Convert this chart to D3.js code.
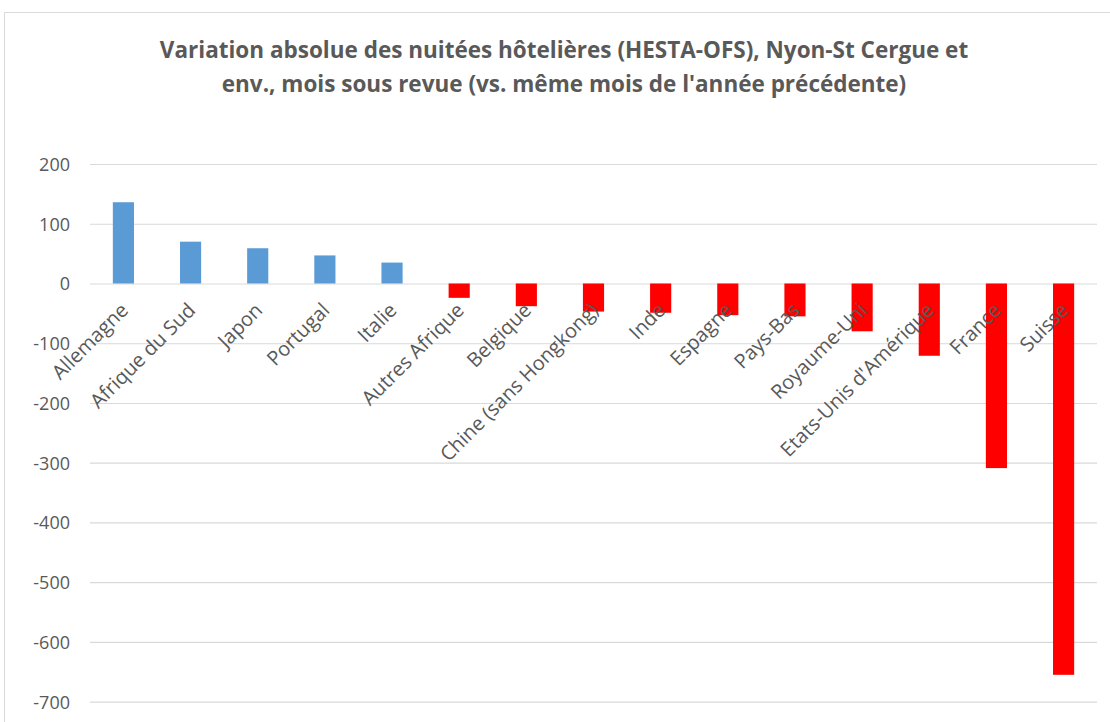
<!DOCTYPE html>
<html>
<head>
<meta charset="utf-8">
<script src="https://cdn.jsdelivr.net/npm/d3@7"></script>
<style>
  body { margin: 0; background: #fff; }
  text { font-family: "Open Sans", sans-serif; fill: #595959; }
</style>
</head>
<body>
<script>
// pays, dans l'ordre du graphique
var categories = ["Allemagne", "Afrique du Sud", "Japon", "Portugal", "Italie",
  "Autres Afrique", "Belgique", "Chine (sans Hongkong)", "Inde", "Espagne",
  "Pays-Bas", "Royaume-Uni", "Etats-Unis d'Amérique", "France", "Suisse"];
// variation absolue des nuitées
var values = [136, 70, 59, 47, 35, -24, -38, -47, -49, -53, -55, -80, -121, -309, -655];
var yTicks = [200, 100, 0, -100, -200, -300, -400, -500, -600, -700];
var titleLines = ["Variation absolue des nuitées hôtelières (HESTA-OFS), Nyon-St Cergue et",
  "env., mois sous revue (vs. même mois de l'année précédente)"];

var width = 1110, height = 722;
var margin = {left: 90, right: 13, top: 164, bottom: 20};

var svg = d3.select("body").append("svg").attr("width", width).attr("height", height);

// cadre du graphique
svg.append("rect").attr("x", 4.5).attr("y", 12.5).attr("width", width + 20).attr("height", height + 20)
  .attr("fill", "none").attr("stroke", "#d9d9d9");

svg.selectAll(".title").data(titleLines).enter().append("text")
  .attr("class", "title")
  .attr("x", 564).attr("y", function(d, i) { return 58 + i * 34; })
  .attr("text-anchor", "middle")
  .style("font-size", "22.5px").style("font-weight", "bold")
  .text(function(d) { return d; });

var x = d3.scaleBand().domain(categories).range([margin.left, 1097]).paddingInner(0.685).paddingOuter(0.34);
var y = d3.scaleLinear().domain([-700, 200]).range([701.7, 164]);

// grille
var yAxis = svg.append("g").attr("transform", "translate(" + margin.left + ",0)")
  .call(d3.axisLeft(y).tickValues(yTicks).tickSize(-(1097 - margin.left)).tickPadding(20).tickFormat(d3.format("d")));
yAxis.select(".domain").remove();
yAxis.selectAll(".tick line").attr("stroke", "#d9d9d9").attr("stroke-width", 1.2);
yAxis.selectAll(".tick text").style("font-size", "18px").attr("fill", "#595959").attr("dy", "0.36em");
yAxis.selectAll(".tick text").text(function(d) { return d < 0 ? "-" + Math.abs(d) : d; });

svg.selectAll(".bar").data(values).enter().append("rect")
  .attr("class", "bar")
  .attr("x", function(d, i) { return x(categories[i]); })
  .attr("width", x.bandwidth())
  .attr("y", function(d) { return y(Math.max(0, d)); })
  .attr("height", function(d) { return Math.abs(y(d) - y(0)); })
  .attr("fill", function(d) { return d >= 0 ? "#5b9bd5" : "#ff0000"; });

// étiquettes des catégories
svg.selectAll(".cat").data(categories).enter().append("text")
  .attr("class", "cat")
  .attr("transform", function(d) {
    return "translate(" + (x(d) + x.bandwidth() / 2 + 6) + "," + (y(0) + 28) + ") rotate(-45)";
  })
  .attr("text-anchor", "end")
  .style("font-size", "20px")
  .text(function(d) { return d; });
</script>
</body>
</html>
